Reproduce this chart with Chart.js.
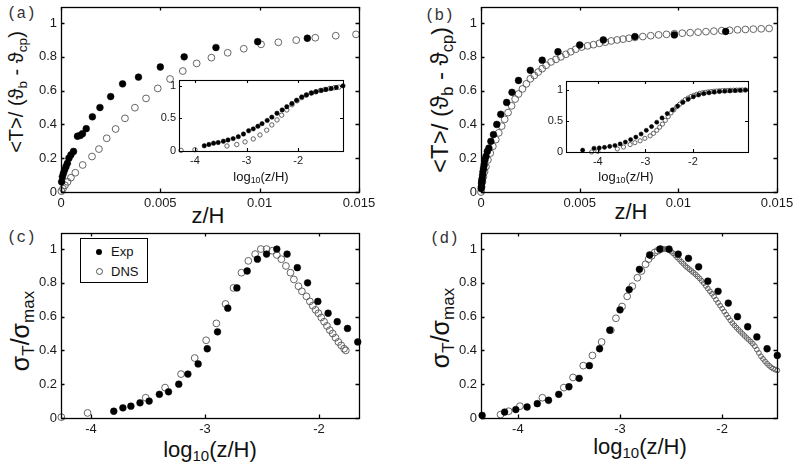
<!DOCTYPE html>
<html>
<head>
<meta charset="utf-8">
<script src="https://cdn.jsdelivr.net/npm/chart.js@4.4.1/dist/chart.umd.min.js"></script>
<style>
  html, body { margin: 0; padding: 0; background: #fff; }
  body { position: relative; width: 800px; height: 468px; overflow: hidden;
         font-family: 'Liberation Sans', Arial, sans-serif; color: #111; }
  .wrap { position: absolute; }
  .txt { position: absolute; white-space: nowrap; line-height: 1; }
  .txt sub { font-size: 0.68em; vertical-align: -0.3em; line-height: 0; }
  .rot { transform: translate(-50%, -50%) rotate(-90deg); }
  .ctr { transform: translate(-50%, -50%); }
  .tag { position: absolute; font-family: 'Liberation Mono', monospace; font-size: 16px; color: #333; }
  .legend { position: absolute; left: 80px; top: 238px; width: 66px; height: 43px;
            border: 1px solid #000; background: #fff; font-size: 13px; }
  .legend .row { position: absolute; left: 0; height: 16px; line-height: 16px; }
  .legend .dot { position: absolute; left: 15px; top: 5px; width: 6px; height: 6px; border-radius: 50%; }
  .legend .lab { position: absolute; left: 30px; top: 0; }
</style>
</head>
<body>

<div class="tag" style="left:7px; top:5px">(a)</div>
<div class="tag" style="left:425px; top:7px">(b)</div>
<div class="tag" style="left:7px; top:229px">(c)</div>
<div class="tag" style="left:430px; top:230px">(d)</div>

<div class="txt rot" style="left:16px; top:92px; font-size:20px">&lt;T&gt;/ (ϑ<sub>b</sub> - ϑ<sub>cp</sub>)</div>
<div class="txt rot" style="left:440px; top:100px; font-size:24px">&lt;T&gt;/ (ϑ<sub>b</sub> - ϑ<sub>cp</sub>)</div>
<div class="txt rot" style="left:20px; top:331px; font-size:25px">σ<sub>T</sub>/σ<sub>max</sub></div>
<div class="txt rot" style="left:440px; top:328px; font-size:25px">σ<sub>T</sub>/σ<sub>max</sub></div>

<div class="txt ctr" style="left:208px; top:216px; font-size:22px">z/H</div>
<div class="txt ctr" style="left:631px; top:212px; font-size:22px">z/H</div>
<div class="txt ctr" style="left:210px; top:450px; font-size:22px">log<sub>10</sub>(z/H)</div>
<div class="txt ctr" style="left:640px; top:447px; font-size:22px">log<sub>10</sub>(z/H)</div>

<script>
// ── Panel (a): mean temperature, linear z/H ───────────────────────────────
const aExpX = [0.00003, 0.00007, 0.00012, 0.00018, 0.00025, 0.00032, 0.0004, 0.0005, 0.00063, 0.00083, 0.00097, 0.00108, 0.00127, 0.00158, 0.00196, 0.0025, 0.0031, 0.0039, 0.005, 0.0062, 0.0078, 0.0099, 0.0124];
const aExpY = [0.06, 0.09, 0.11, 0.13, 0.15, 0.17, 0.20, 0.22, 0.24, 0.33, 0.335, 0.345, 0.375, 0.445, 0.50, 0.565, 0.64, 0.68, 0.74, 0.80, 0.855, 0.89, 0.91];
const aDnsX = [0.00002, 0.0001, 0.0002, 0.00033, 0.0005, 0.00072, 0.00109, 0.00156, 0.00191, 0.0023, 0.00275, 0.00322, 0.00372, 0.00428, 0.00487, 0.00549, 0.00613, 0.00683, 0.00757, 0.00839, 0.0092, 0.01007, 0.01094, 0.01184, 0.0128, 0.01383, 0.01485];
const aDnsY = [0.005, 0.02, 0.04, 0.06, 0.085, 0.114, 0.16, 0.21, 0.254, 0.318, 0.373, 0.436, 0.499, 0.554, 0.613, 0.669, 0.716, 0.761, 0.795, 0.824, 0.848, 0.874, 0.886, 0.899, 0.913, 0.925, 0.933];

// inset (a), log10(z/H)
const aInExpX = [-3.82, -3.73, -3.64, -3.55, -3.45, -3.36, -3.26, -3.16, -3.06, -2.96, -2.87, -2.78, -2.70, -2.60, -2.51, -2.41, -2.31, -2.22, -2.12, -2.03, -1.93, -1.84, -1.74, -1.65, -1.55, -1.46, -1.36, -1.26, -1.13];
const aInExpY = [0.08, 0.10, 0.12, 0.13, 0.15, 0.17, 0.19, 0.22, 0.26, 0.31, 0.34, 0.38, 0.42, 0.47, 0.52, 0.58, 0.63, 0.68, 0.73, 0.78, 0.83, 0.86, 0.89, 0.91, 0.93, 0.945, 0.96, 0.975, 1.0];
const aInDnsX = [-4.27, -4.0, -3.38, -3.19, -3.03, -2.87, -2.74, -2.61, -2.51, -2.41, -2.32, -2.22, -2.12, -2.02, -1.93, -1.84, -1.75, -1.66, -1.57, -1.48, -1.39, -1.30, -1.21];
const aInDnsY = [0.01, 0.02, 0.077, 0.10, 0.14, 0.185, 0.246, 0.32, 0.40, 0.477, 0.55, 0.63, 0.71, 0.77, 0.82, 0.86, 0.89, 0.91, 0.93, 0.945, 0.96, 0.97, 0.98];

// ── Panel (b) ─────────────────────────────────────────────────────────────
const bExpX = [0.00001, 0.00002, 0.00003, 0.00004, 0.00005, 0.00006, 0.00008, 0.0001, 0.00013, 0.00016, 0.0002, 0.00025, 0.00032, 0.0004, 0.0005, 0.00063, 0.0008, 0.001, 0.0013, 0.00157, 0.0019, 0.0025, 0.0031, 0.0039, 0.005, 0.0062, 0.0078, 0.0098, 0.0124];
const bExpY = [0.02, 0.03, 0.05, 0.06, 0.07, 0.08, 0.10, 0.12, 0.14, 0.16, 0.19, 0.21, 0.24, 0.26, 0.30, 0.34, 0.40, 0.46, 0.53, 0.59, 0.66, 0.72, 0.78, 0.83, 0.87, 0.90, 0.92, 0.93, 0.95];
const bDnsX = [0, 0.00003, 0.00007, 0.00012, 0.00018, 0.00025, 0.00035, 0.00047, 0.0006, 0.00075, 0.0009, 0.00105, 0.0012, 0.00137, 0.00155, 0.00173, 0.0019, 0.0021, 0.0023, 0.0025, 0.0027, 0.0029, 0.0031, 0.0033, 0.00355, 0.0038, 0.00405, 0.0043, 0.00455, 0.0048, 0.0051, 0.0054, 0.0057, 0.006, 0.0063, 0.0066, 0.0069, 0.0072, 0.0075, 0.0078, 0.0082, 0.0086, 0.009, 0.0094, 0.0098, 0.0102, 0.0106, 0.011, 0.0114, 0.0118, 0.0122, 0.0126, 0.013, 0.0134, 0.0138, 0.0142, 0.0146];
const bDnsY = [0, 0.03, 0.06, 0.09, 0.12, 0.15, 0.19, 0.23, 0.27, 0.31, 0.35, 0.39, 0.43, 0.47, 0.51, 0.55, 0.58, 0.61, 0.64, 0.67, 0.69, 0.71, 0.73, 0.75, 0.77, 0.785, 0.80, 0.815, 0.83, 0.845, 0.858, 0.865, 0.872, 0.88, 0.887, 0.894, 0.90, 0.905, 0.91, 0.915, 0.92, 0.925, 0.93, 0.933, 0.937, 0.94, 0.943, 0.946, 0.949, 0.952, 0.955, 0.957, 0.96, 0.962, 0.964, 0.966, 0.968];

// inset (b)
const bInExpX = [-4.32, -4.08, -3.97, -3.86, -3.75, -3.64, -3.53, -3.42, -3.31, -3.20, -3.09, -2.98, -2.87, -2.76, -2.65, -2.54, -2.43, -2.32, -2.21, -2.10, -1.99, -1.88, -1.77, -1.66, -1.55, -1.44, -1.33, -1.22, -1.11, -1.00, -0.89];
const bInExpY = [0.03, 0.06, 0.065, 0.075, 0.09, 0.105, 0.13, 0.16, 0.20, 0.24, 0.29, 0.35, 0.41, 0.48, 0.55, 0.62, 0.68, 0.74, 0.80, 0.85, 0.89, 0.92, 0.94, 0.955, 0.965, 0.975, 0.98, 0.985, 0.99, 0.995, 1.0];
const bInDnsX = [-4.13, -4.0, -3.59, -3.46, -3.32, -3.22, -3.11, -3.01, -2.90, -2.83, -2.76, -2.70, -2.64, -2.58, -2.52, -2.46, -2.40, -2.34, -2.28, -2.22, -2.16, -2.10, -2.04, -1.98, -1.92, -1.86, -1.80, -1.74, -1.68, -1.62, -1.56, -1.50, -1.44, -1.38, -1.32, -1.26, -1.20, -1.14, -1.08, -1.02, -0.96, -0.90];
const bInDnsY = [0.0, 0.01, 0.05, 0.08, 0.12, 0.15, 0.18, 0.22, 0.26, 0.30, 0.35, 0.40, 0.45, 0.51, 0.57, 0.63, 0.68, 0.73, 0.77, 0.81, 0.845, 0.87, 0.895, 0.915, 0.93, 0.945, 0.955, 0.963, 0.97, 0.975, 0.98, 0.984, 0.987, 0.99, 0.992, 0.994, 0.996, 0.997, 0.998, 0.999, 1.0, 1.0];

// ── Panel (c): rms temperature, log10(z/H) ────────────────────────────────
const cExpX = [-3.80, -3.72, -3.65, -3.57, -3.49, -3.40, -3.32, -3.23, -3.15, -3.06, -2.98, -2.89, -2.80, -2.72, -2.63, -2.54, -2.46, -2.37, -2.28, -2.19, -2.10, -2.01, -1.92, -1.84, -1.75, -1.66];
const cExpY = [0.04, 0.06, 0.07, 0.09, 0.10, 0.14, 0.155, 0.20, 0.26, 0.32, 0.41, 0.51, 0.65, 0.77, 0.87, 0.94, 0.97, 1.0, 0.97, 0.89, 0.80, 0.69, 0.62, 0.57, 0.53, 0.45];
const cDnsX = [-4.26, -4.03, -3.52, -3.35, -3.21, -3.09, -2.99, -2.90, -2.82, -2.75, -2.68, -2.62, -2.56, -2.51, -2.46, -2.41, -2.37, -2.33, -2.29, -2.25, -2.22, -2.18, -2.15, -2.11, -2.08, -2.055, -2.03, -2.005, -1.98, -1.955, -1.93, -1.905, -1.88, -1.855, -1.83, -1.805, -1.78, -1.765];
const cDnsY = [0.005, 0.03, 0.12, 0.18, 0.26, 0.355, 0.46, 0.56, 0.675, 0.77, 0.86, 0.93, 0.97, 1.0, 1.0, 0.99, 0.965, 0.94, 0.90, 0.86, 0.82, 0.78, 0.75, 0.72, 0.69, 0.665, 0.64, 0.62, 0.595, 0.57, 0.545, 0.52, 0.50, 0.475, 0.45, 0.43, 0.41, 0.40];

// ── Panel (d) ─────────────────────────────────────────────────────────────
const dExpX = [-4.35, -4.13, -4.02, -3.91, -3.81, -3.70, -3.60, -3.50, -3.40, -3.30, -3.20, -3.10, -3.00, -2.91, -2.81, -2.71, -2.61, -2.52, -2.43, -2.33, -2.23, -2.14, -2.04, -1.94, -1.85, -1.75, -1.66, -1.56, -1.46];
const dExpY = [0.015, 0.035, 0.05, 0.065, 0.085, 0.105, 0.14, 0.185, 0.235, 0.31, 0.41, 0.52, 0.64, 0.76, 0.88, 0.965, 1.0, 1.0, 0.97, 0.945, 0.895, 0.81, 0.75, 0.68, 0.60, 0.54, 0.48, 0.41, 0.37];
const dDnsX = [-4.17, -4.09, -3.98, -3.76, -3.55, -3.46, -3.36, -3.27, -3.18, -3.09, -3.04, -2.98, -2.93, -2.88, -2.83, -2.79, -2.75, -2.72, -2.69, -2.66, -2.63, -2.60];
const dDnsY = [0.02, 0.04, 0.07, 0.12, 0.18, 0.24, 0.31, 0.37, 0.45, 0.52, 0.59, 0.66, 0.72, 0.78, 0.83, 0.87, 0.91, 0.94, 0.96, 0.98, 0.99, 1.0];
const dDnsTailX = [-2.58, -2.56, -2.54, -2.52, -2.50, -2.48, -2.46, -2.44, -2.42, -2.40, -2.38, -2.36, -2.34, -2.32, -2.30, -2.28, -2.26, -2.24, -2.22, -2.20, -2.18, -2.16, -2.14, -2.12, -2.10, -2.08, -2.06, -2.04, -2.02, -2.00, -1.98, -1.96, -1.94, -1.92, -1.90, -1.88, -1.86, -1.84, -1.82, -1.80, -1.78, -1.76, -1.74, -1.72, -1.70, -1.68, -1.66, -1.64, -1.62, -1.60, -1.58, -1.56, -1.54, -1.52, -1.50, -1.48, -1.46];
const dDnsTailY = [1.0, 1.0, 0.998, 0.993, 0.985, 0.975, 0.963, 0.95, 0.938, 0.925, 0.913, 0.90, 0.89, 0.88, 0.87, 0.86, 0.85, 0.838, 0.826, 0.812, 0.798, 0.782, 0.766, 0.75, 0.735, 0.72, 0.70, 0.682, 0.665, 0.648, 0.63, 0.612, 0.595, 0.578, 0.562, 0.548, 0.535, 0.522, 0.51, 0.498, 0.486, 0.474, 0.463, 0.452, 0.44, 0.425, 0.405, 0.385, 0.365, 0.35, 0.335, 0.322, 0.31, 0.30, 0.292, 0.286, 0.282];

// ── Tick values ───────────────────────────────────────────────────────────
const linXTicks = [0, 0.005, 0.01, 0.015];
const mainYTicks = [0, 0.2, 0.4, 0.6, 0.8, 1];
const logXTicks = [-4, -3, -2];
const insetYTicks = [0, 0.5, 1];

// ── Helpers ───────────────────────────────────────────────────────────────
const FONT_FAMILY = "'Liberation Sans', Arial, sans-serif";

function pts(xs, ys) { return xs.map((x, i) => ({ x, y: ys[i] })); }

function expSet(xs, ys, r) {
  return { data: pts(xs, ys), pointRadius: r, pointHoverRadius: r,
           backgroundColor: '#000', borderColor: '#000', borderWidth: 0.5, clip: 5 };
}
function dnsSet(xs, ys, r) {
  return { data: pts(xs, ys), pointRadius: r, pointHoverRadius: r,
           backgroundColor: 'rgba(0,0,0,0)', borderColor: '#555', borderWidth: 0.9, clip: 5 };
}

// box + inward tick marks on all four sides (matlab look)
const boxFrame = {
  id: 'boxFrame',
  beforeDatasetsDraw(chart, args, opts) {
    if (!opts.fill) return;
    const a = chart.chartArea, ctx = chart.ctx;
    ctx.save();
    ctx.fillStyle = '#fff';
    ctx.fillRect(a.left, a.top, a.right - a.left, a.bottom - a.top);
    ctx.restore();
  },
  afterDatasetsDraw(chart, args, opts) {
    const a = chart.chartArea, ctx = chart.ctx;
    const tl = opts.tick || 4;
    ctx.save();
    ctx.strokeStyle = '#000';
    ctx.lineWidth = opts.width || 1.2;
    ctx.beginPath();
    chart.scales.x.ticks.forEach(t => {
      const px = Math.round(chart.scales.x.getPixelForValue(t.value)) + 0.5;
      ctx.moveTo(px, a.bottom); ctx.lineTo(px, a.bottom - tl);
      ctx.moveTo(px, a.top); ctx.lineTo(px, a.top + tl);
    });
    chart.scales.y.ticks.forEach(t => {
      const py = Math.round(chart.scales.y.getPixelForValue(t.value)) + 0.5;
      ctx.moveTo(a.left, py); ctx.lineTo(a.left + tl, py);
      ctx.moveTo(a.right, py); ctx.lineTo(a.right - tl, py);
    });
    ctx.stroke();
    ctx.strokeRect(Math.round(a.left) + 0.5, Math.round(a.top) + 0.5,
                   Math.round(a.right - a.left), Math.round(a.bottom - a.top));
    ctx.restore();
  }
};

function panel(cfg) {
  const W = (cfg.r - cfg.l) + cfg.padL + cfg.padR;
  const H = (cfg.b - cfg.t) + cfg.padT + cfg.padB;
  const wrap = document.createElement('div');
  wrap.className = 'wrap';
  wrap.style.left = (cfg.l - cfg.padL) + 'px';
  wrap.style.top = (cfg.t - cfg.padT) + 'px';
  wrap.style.width = W + 'px';
  wrap.style.height = H + 'px';
  const canvas = document.createElement('canvas');
  canvas.width = W; canvas.height = H;
  wrap.appendChild(canvas);
  document.body.appendChild(wrap);

  const font = { family: FONT_FAMILY, size: cfg.fontSize };
  new Chart(canvas.getContext('2d'), {
    type: 'scatter',
    data: { datasets: cfg.datasets },
    options: {
      responsive: false,
      animation: false,
      devicePixelRatio: 1,
      layout: { padding: { left: 0, top: cfg.padT, right: cfg.padR, bottom: 0 } },
      plugins: {
        legend: { display: false },
        tooltip: { enabled: false },
        boxFrame: { fill: cfg.fill, tick: cfg.tick, width: cfg.frameWidth },
      },
      scales: {
        x: {
          type: 'linear', min: cfg.xMin, max: cfg.xMax,
          grid: { display: false, drawTicks: false }, border: { display: false },
          afterBuildTicks: s => { s.ticks = cfg.xTicks.map(v => ({ value: v })); },
          afterFit: s => { s.height = cfg.padB; },
          ticks: { font, color: '#1a1a1a', padding: cfg.xPad, maxRotation: 0, autoSkip: false,
                   callback: v => String(v) },
        },
        y: {
          type: 'linear', min: cfg.yMin, max: cfg.yMax,
          grid: { display: false, drawTicks: false }, border: { display: false },
          afterBuildTicks: s => { s.ticks = cfg.yTicks.map(v => ({ value: v })); },
          afterFit: s => { s.width = cfg.padL; },
          ticks: { font, color: '#1a1a1a', padding: cfg.yPad, autoSkip: false,
                   callback: v => String(v) },
        },
      },
    },
    plugins: [boxFrame],
  });
}

const MAIN = { padL: 40, padT: 14, padR: 26, padB: 22, fontSize: 13, xPad: 4, yPad: 4, tick: 3.5, frameWidth: 1.3 };
const INSET = { padL: 22, padT: 12, padR: 12, padB: 18, fontSize: 11, xPad: 3, yPad: 3, tick: 3, frameWidth: 1.1, fill: true };

// ── Build the six axes ────────────────────────────────────────────────────
panel(Object.assign({}, MAIN, {
  l: 61, t: 7, r: 359, b: 192, xMin: 0, xMax: 0.015, yMin: 0, yMax: 1.095,
  xTicks: linXTicks, yTicks: mainYTicks,
  datasets: [expSet(aExpX, aExpY, 3.4), dnsSet(aDnsX, aDnsY, 3.4)],
}));
panel(Object.assign({}, INSET, {
  l: 179, t: 80, r: 343, b: 151, xMin: -4.31, xMax: -1.13, yMin: 0, yMax: 1.09,
  xTicks: logXTicks, yTicks: insetYTicks,
  datasets: [expSet(aInExpX, aInExpY, 2.2), dnsSet(aInDnsX, aInDnsY, 2.2)],
}));

panel(Object.assign({}, MAIN, {
  l: 481, t: 7, r: 777, b: 192, xMin: 0, xMax: 0.015, yMin: 0, yMax: 1.095,
  xTicks: linXTicks, yTicks: mainYTicks,
  datasets: [expSet(bExpX, bExpY, 3.4), dnsSet(bDnsX, bDnsY, 3.4)],
}));
panel(Object.assign({}, INSET, {
  l: 566, t: 81, r: 748, b: 152, xMin: -4.67, xMax: -0.84, yMin: 0, yMax: 1.145,
  xTicks: logXTicks, yTicks: insetYTicks,
  datasets: [expSet(bInExpX, bInExpY, 2.1), dnsSet(bInDnsX, bInDnsY, 2.1)],
}));

panel(Object.assign({}, MAIN, {
  l: 61, t: 233, r: 359, b: 418, xMin: -4.263, xMax: -1.649, yMin: 0, yMax: 1.095,
  xTicks: logXTicks, yTicks: mainYTicks,
  datasets: [expSet(cExpX, cExpY, 3.4), dnsSet(cDnsX, cDnsY, 3.4)],
}));
panel(Object.assign({}, MAIN, {
  l: 481, t: 233, r: 777, b: 418, xMin: -4.361, xMax: -1.463, yMin: 0, yMax: 1.095,
  xTicks: logXTicks, yTicks: mainYTicks,
  datasets: [expSet(dExpX, dExpY, 3.4), dnsSet(dDnsX, dDnsY, 3.4), dnsSet(dDnsTailX, dDnsTailY, 2.4)],
}));
</script>

<div class="txt ctr" style="left:261px; top:176px; font-size:13px">log<sub>10</sub>(z/H)</div>
<div class="txt ctr" style="left:626px; top:176px; font-size:13px">log<sub>10</sub>(z/H)</div>

<div class="legend">
  <div class="row" style="top:5px"><span class="dot" style="background:#000"></span><span class="lab">Exp</span></div>
  <div class="row" style="top:25px"><span class="dot" style="border:1px solid #555; width:5px; height:5px; top:4px"></span><span class="lab">DNS</span></div>
</div>

</body>
</html>
